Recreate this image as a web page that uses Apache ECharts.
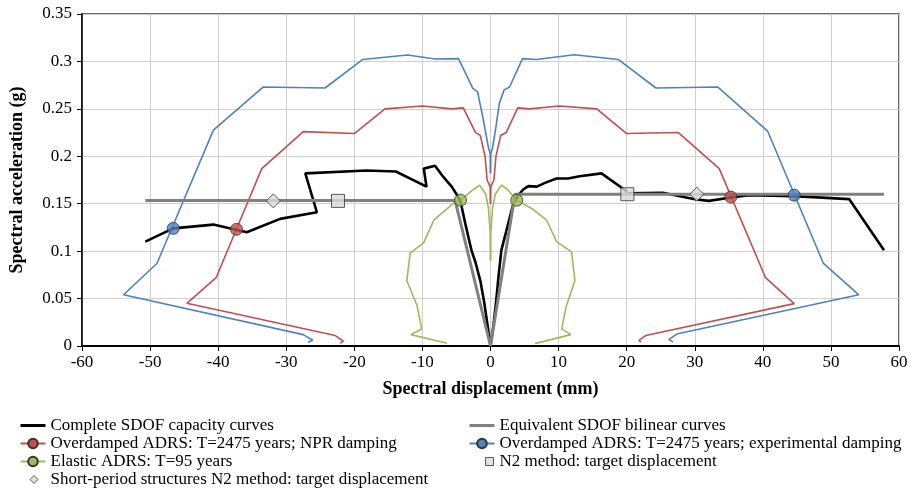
<!DOCTYPE html>
<html>
<head>
<meta charset="utf-8">
<script src="https://cdn.jsdelivr.net/npm/echarts@6/dist/echarts.min.js"></script>
<style>
  html, body { margin: 0; padding: 0; background: #fff; }
  #main { width: 916px; height: 491px; }
</style>
</head>
<body>
<div id="main"></div>
<script>
// Capacity curves (Sd mm, Sa g)
const capacityNeg = [[0,0],[-0.4,0.02],[-0.9,0.045],[-1.5,0.069],[-2.2,0.088],[-2.8,0.101],[-3.7,0.129],[-4.4,0.152],[-4.9,0.159],
    [-5.7,0.168],[-6.9,0.178],[-8.15,0.19],[-9.8,0.187],[-9.4,0.168],[-13.9,0.184],[-18.2,0.185],[-27.2,0.182],
    [-25.5,0.141],[-30.9,0.134],[-35.8,0.12],[-40.7,0.128],[-46.6,0.124],[-50.7,0.11]];
const capacityPos = [[0,0],[0.4,0.02],[0.8,0.045],[1.2,0.075],[1.6,0.101],[2.6,0.129],[3.35,0.15],[4.1,0.159],[4.8,0.165],
    [5.55,0.1685],[6.8,0.168],[8.0,0.172],[9.7,0.1766],[11.4,0.1766],[13.1,0.179],[16.3,0.182],[19.9,0.1636],
    [20.1,0.161],[25.3,0.1615],[30.2,0.1545],[32.1,0.153],[35.3,0.1566],[38.0,0.159],[44.6,0.158],[52.7,0.1548],[57.8,0.101]];

const bilinearNeg = [[0,0],[-5.2,0.1535],[-50.7,0.1535]];
const bilinearPos = [[0,0],[3.6,0.160],[57.8,0.160]];

// Overdamped ADRS, T=2475 years, NPR damping
const npNeg = [[0,0.15],[-0.05,0.168],[-0.5,0.175],[-0.8,0.2],[-1.5,0.222],[-2.2,0.225],[-4.0,0.251],[-5.7,0.25],
    [-10.0,0.253],[-15.5,0.25],[-20.0,0.224],[-27.5,0.226],[-33.6,0.187],[-40.3,0.072],[-44.6,0.045],
    [-22.8,0.011],[-21.6,0.005],[-22.1,0.003]];
const npPos = [[0,0.15],[0.05,0.168],[0.5,0.175],[0.8,0.2],[1.5,0.222],[2.3,0.225],[4.0,0.251],[5.7,0.25],
    [10.1,0.253],[15.6,0.25],[20.0,0.224],[27.6,0.225],[33.6,0.187],[40.4,0.072],[44.6,0.0447],
    [22.8,0.011],[21.8,0.006],[22.1,0.004]];

// Overdamped ADRS, T=2475 years, experimental damping
const expNeg = [[0,0.182],[-0.05,0.203],[-0.3,0.209],[-1.15,0.242],[-1.9,0.268],[-2.6,0.2716],[-4.7,0.303],[-8.1,0.3025],
    [-12.2,0.3067],[-18.8,0.302],[-24.3,0.272],[-33.4,0.273],[-40.7,0.2276],[-49.0,0.087],[-53.9,0.054],
    [-27.5,0.012],[-26.1,0.006],[-26.8,0.004]];
const expPos = [[0,0.182],[0.05,0.203],[0.3,0.209],[0.8,0.231],[1.3,0.256],[2.0,0.27],[2.8,0.273],[4.7,0.303],[6.7,0.302],
    [12.3,0.307],[18.8,0.302],[24.3,0.272],[33.4,0.273],[40.7,0.2266],[48.9,0.087],[54.1,0.054],
    [27.5,0.013],[26.2,0.007],[26.8,0.004]];

// Elastic ADRS, T=95 years
const elNeg = [[0,0.09],[-0.05,0.12],[-0.3,0.145],[-0.7,0.16],[-1.6,0.1696],[-2.5,0.165],[-4.4,0.1537],[-5.2,0.152],
    [-8.3,0.133],[-9.8,0.109],[-11.8,0.098],[-12.3,0.069],[-10.8,0.043],[-10.1,0.018],[-11.7,0.012],[-6.4,0.003]];
const elPos = [[0,0.09],[0.05,0.12],[0.3,0.145],[0.7,0.16],[1.6,0.1696],[2.5,0.165],[3.85,0.1537],[6.05,0.145],
    [8.25,0.1326],[9.7,0.11],[11.9,0.0992],[12.4,0.069],[11.1,0.041],[10.45,0.018],[11.8,0.012],[6.5,0.0025]];

// performance points
const npPoints = [[-37.3,0.123],[35.3,0.157]];
const expPoints = [[-46.6,0.124],[44.6,0.159]];
const elPoints = [[-4.4,0.1537],[3.85,0.1537]];
const n2Points = [[-22.4,0.153],[20.1,0.160]];
const shortPoints = [[-31.9,0.153],[30.3,0.160]];

const names = {
    cap: 'Complete SDOF capacity curves',
    bil: 'Equivalent SDOF bilinear curves',
    np: 'Overdamped ADRS: T=2475 years; NPR damping',
    exp: 'Overdamped ADRS: T=2475 years; experimental damping',
    el: 'Elastic ADRS: T=95 years',
    n2: 'N2 method: target displacement',
    sp: 'Short-period structures N2 method: target displacement'
};

const font = 'Liberation Serif';
const myChart = echarts.init(document.getElementById('main'));

function spectrum(name, color, data) {
    return {
        name: name, type: 'line', data: data, symbol: 'circle', showSymbol: false,
        lineStyle: { color: color, width: 1.6 },
        itemStyle: { color: color, borderColor: '#333', borderWidth: 1 },
        emphasis: { disabled: true }, animation: false, z: 2
    };
}
function points(name, color, symbol, size, data) {
    return {
        name: name, type: 'scatter', data: data, symbol: symbol, symbolSize: size, symbolKeepAspect: true,
        itemStyle: { color: color, borderColor: '#333', borderWidth: 1 },
        emphasis: { disabled: true }, animation: false, z: 5
    };
}

const legendText = { fontFamily: font, fontSize: 17, color: '#000' };
// the marker-only keys are drawn as small shapes, not stretched to the key width
const diamondIcon = 'path://M0,5 L0,5 M13.5,1 L17.5,5 L13.5,9 L9.5,5 Z M25,5 L25,5';
const squareIcon = 'path://M0,5 L0,5 M16,1 L24,1 L24,9 L16,9 Z M25,5 L25,5';

let option = {
    animation: false,
    grid: { left: 82, right: 17, top: 14, bottom: 145, show: true, borderColor: '#6a6a6a', borderWidth: 2 },
    xAxis: {
        type: 'value', min: -60, max: 60, interval: 10,
        name: 'Spectral displacement (mm)', nameLocation: 'middle', nameGap: 34,
        nameTextStyle: { fontFamily: font, fontSize: 18, fontWeight: 'bold', color: '#000' },
        axisLine: { lineStyle: { color: '#000', width: 2 } },
        axisTick: { show: true, length: 5, lineStyle: { color: '#000' } },
        axisLabel: { fontFamily: font, fontSize: 17, color: '#000', margin: 8 },
        splitLine: { lineStyle: { color: '#cfcfcf', width: 1 } }
    },
    yAxis: {
        type: 'value', min: 0, max: 0.35, interval: 0.05,
        name: 'Spectral acceleration (g)', nameLocation: 'middle', nameGap: 56,
        nameTextStyle: { fontFamily: font, fontSize: 18, fontWeight: 'bold', color: '#000' },
        axisLine: { show: true, onZero: false, lineStyle: { color: '#000', width: 1.5 } },
        axisTick: { show: true, length: 5, lineStyle: { color: '#000' } },
        axisLabel: { fontFamily: font, fontSize: 17, color: '#000', margin: 10 },
        splitLine: { lineStyle: { color: '#cfcfcf', width: 1 } }
    },
    legend: [
        {
            orient: 'vertical', left: 14, top: 412, height: 79, itemWidth: 25, itemHeight: 12, itemGap: 1,
            textStyle: legendText, symbolKeepAspect: true,
            data: [
                { name: names.cap, itemStyle: { opacity: 0 }, lineStyle: { width: 3 } },
                names.np, names.el,
                { name: names.sp, icon: diamondIcon, itemStyle: { borderColor: '#333', borderWidth: 1 } }
            ]
        },
        {
            orient: 'vertical', left: 463, top: 412, height: 79, itemWidth: 25, itemHeight: 12, itemGap: 1,
            textStyle: legendText, symbolKeepAspect: true,
            data: [
                { name: names.bil, itemStyle: { opacity: 0 }, lineStyle: { width: 3 } },
                names.exp,
                { name: names.n2, icon: squareIcon, itemStyle: { borderColor: '#333', borderWidth: 1 } }
            ]
        }
    ],
    series: [
        spectrum(names.np, '#c0504d', npNeg),
        spectrum(names.np, '#c0504d', npPos),
        spectrum(names.exp, '#4f81bd', expNeg),
        spectrum(names.exp, '#4f81bd', expPos),
        spectrum(names.el, '#9bbb59', elNeg),
        spectrum(names.el, '#9bbb59', elPos),
        {
            name: names.cap, type: 'line', data: capacityNeg, symbol: 'none',
            lineStyle: { color: '#000', width: 2.6 }, itemStyle: { color: '#000' }, z: 3
        },
        {
            name: names.cap, type: 'line', data: capacityPos, symbol: 'none',
            lineStyle: { color: '#000', width: 2.6 }, itemStyle: { color: '#000' }, z: 3
        },
        {
            name: names.bil, type: 'line', data: bilinearNeg, symbol: 'none',
            lineStyle: { color: '#808080', width: 3 }, itemStyle: { color: '#808080' }, z: 4
        },
        {
            name: names.bil, type: 'line', data: bilinearPos, symbol: 'none',
            lineStyle: { color: '#808080', width: 3 }, itemStyle: { color: '#808080' }, z: 4
        },
        points(names.np, '#c0504d', 'circle', 12, npPoints),
        points(names.exp, '#4f81bd', 'circle', 12, expPoints),
        points(names.el, '#9bbb59', 'circle', 12, elPoints),
        points(names.n2, '#d9d9d9', 'rect', 13, n2Points),
        points(names.sp, '#d9d9d9', 'diamond', 14, shortPoints)
    ]
};

option && myChart.setOption(option);
</script>
</body>
</html>
